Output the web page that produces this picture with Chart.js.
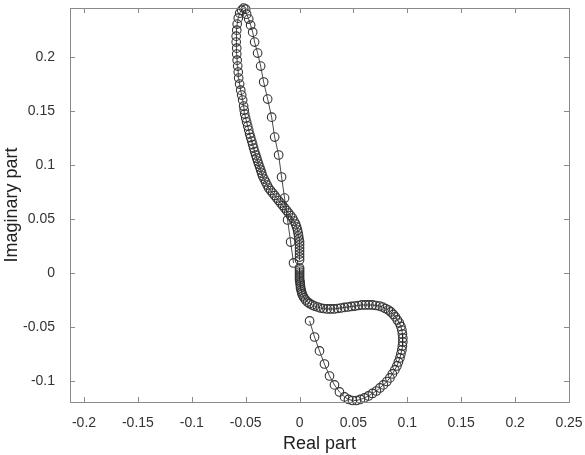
<!DOCTYPE html>
<html>
<head>
<meta charset="utf-8">
<script src="https://cdn.jsdelivr.net/npm/chart.js@4/dist/chart.umd.min.js"></script>
<style>
html, body { margin: 0; padding: 0; background: #fff; }
</style>
</head>
<body>
<canvas id="chart" width="585" height="455"></canvas>
<script>
// upper branch (dense S-curve up the left side, sparse way back down)
var upperRe = [0,0,0,0,0,0,0,-0.0005,-0.0009,-0.0014,-0.0019,-0.0028,-0.0037,-0.0051,-0.0065,-0.0083,-0.0102,-0.0120,-0.0139,-0.0157,
  -0.0176,-0.0194,-0.0213,-0.0231,-0.0250,-0.0269,-0.0287,-0.0301,-0.0315,-0.0329,-0.0343,-0.0352,-0.0361,-0.0370,-0.0380,-0.0389,-0.0398,-0.0407,
  -0.0417,-0.0426,-0.0435,-0.0444,-0.0454,-0.0463,-0.0472,-0.0481,-0.0491,-0.0500,-0.0509,-0.0514,-0.0519,-0.0528,-0.0537,-0.0546,-0.0556,-0.0565,
  -0.0569,-0.0574,-0.0579,-0.0583,-0.0583,-0.0588,-0.0588,-0.0583,-0.0579,-0.0569,-0.0556,-0.0537,-0.0519,-0.0500,
  -0.0491,-0.0472,-0.0454,-0.0435,-0.0417,-0.0389,-0.0361,-0.0333,-0.0296,-0.0259,-0.0231,-0.0194,-0.0167,-0.0139,-0.0111,-0.0083,-0.0056];
var upperIm = [0.0120,0.0148,0.0176,0.0204,0.0231,0.0259,0.0287,0.0315,0.0343,0.0370,0.0398,0.0426,0.0454,0.0481,0.0509,0.0532,0.0556,0.0579,0.0602,0.0625,
  0.0648,0.0671,0.0694,0.0718,0.0741,0.0764,0.0787,0.0815,0.0843,0.0870,0.0898,0.0926,0.0954,0.0981,0.1009,0.1037,0.1065,0.1093,
  0.1125,0.1157,0.1190,0.1222,0.1255,0.1287,0.1324,0.1361,0.1398,0.1435,0.1472,0.1509,0.1546,0.1602,0.1648,0.1694,0.1750,0.1806,
  0.1861,0.1917,0.1972,0.2028,0.2083,0.2139,0.2194,0.2250,0.2306,0.2361,0.2407,0.2435,0.2454,0.2444,
  0.2398,0.2352,0.2296,0.2231,0.2139,0.2037,0.1917,0.1769,0.1611,0.1444,0.1259,0.1093,0.0889,0.0694,0.0491,0.0287,0.0093];

// lower branch (dense down and round the loop, sparse way back up)
var lowerRe = [0,0,0,0,0,0,0,0.0005,0.0005,0.0009,0.0009,0.0014,0.0019,0.0023,0.0032,0.0042,0.0056,
  0.0074,0.0093,0.0116,0.0139,0.0167,0.0194,0.0222,0.0255,0.0287,0.0319,0.0352,0.0384,0.0417,0.0449,0.0481,0.0514,0.0546,0.0579,
  0.0611,0.0644,0.0676,0.0708,0.0741,0.0769,0.0796,0.0824,0.0847,0.0870,0.0889,0.0907,0.0926,0.0940,0.0949,0.0954,0.0958,0.0958,0.0954,0.0949,
  0.0940,0.0931,0.0917,0.0903,0.0884,0.0861,0.0838,0.0810,0.0778,0.0745,0.0713,0.0676,0.0639,0.0602,0.0565,0.0528,0.0491,0.0454,0.0417,
  0.0370,0.0324,0.0278,0.0231,0.0185,0.0139,0.0093];
var lowerIm = [0.0046,0.0028,0.0009,-0.0009,-0.0028,-0.0046,-0.0065,-0.0083,-0.0102,-0.0120,-0.0139,-0.0157,-0.0176,-0.0194,-0.0213,-0.0231,-0.0250,
  -0.0269,-0.0282,-0.0296,-0.0306,-0.0315,-0.0324,-0.0329,-0.0333,-0.0333,-0.0333,-0.0329,-0.0324,-0.0319,-0.0315,-0.0310,-0.0306,-0.0301,-0.0296,
  -0.0296,-0.0296,-0.0296,-0.0301,-0.0306,-0.0315,-0.0329,-0.0343,-0.0361,-0.0384,-0.0407,-0.0435,-0.0463,-0.0495,-0.0528,-0.0565,-0.0602,-0.0639,-0.0676,-0.0713,
  -0.0750,-0.0787,-0.0824,-0.0861,-0.0898,-0.0935,-0.0972,-0.1005,-0.1037,-0.1065,-0.1093,-0.1116,-0.1139,-0.1157,-0.1171,-0.1181,-0.1181,-0.1171,-0.1148,
  -0.1102,-0.1037,-0.0954,-0.0843,-0.0722,-0.0593,-0.0444];

var xTicks = [-0.2, -0.15, -0.1, -0.05, 0, 0.05, 0.1, 0.15, 0.2, 0.25];
var yTicks = [-0.1, -0.05, 0, 0.05, 0.1, 0.15, 0.2];

function toPoints(re, im) {
  return re.map(function (x, i) { return { x: x, y: im[i] }; });
}

function branch(re, im) {
  return {
    data: toPoints(re, im),
    showLine: true,
    borderColor: '#1a1a1a',
    borderWidth: 0.8,
    pointRadius: 4.3,
    pointBorderWidth: 1.1,
    pointBorderColor: '#333',
    pointBackgroundColor: 'rgba(0,0,0,0)',
    clip: false
  };
}

// box round the plot with inward tick marks on all four sides
var frame = {
  id: 'frame',
  afterDatasetsDraw: function (chart) {
    var ctx = chart.ctx, a = chart.chartArea;
    var xs = chart.scales.x, ys = chart.scales.y;
    ctx.save();
    ctx.strokeStyle = '#8a8a8a';
    ctx.lineWidth = 1;
    ctx.strokeRect(Math.round(a.left) + 0.5, Math.round(a.top) + 0.5,
      Math.round(a.right - a.left), Math.round(a.bottom - a.top));
    ctx.beginPath();
    xTicks.forEach(function (v) {
      var px = Math.round(xs.getPixelForValue(v)) + 0.5;
      ctx.moveTo(px, a.bottom); ctx.lineTo(px, a.bottom - 5);
      ctx.moveTo(px, a.top); ctx.lineTo(px, a.top + 5);
    });
    yTicks.forEach(function (v) {
      var py = Math.round(ys.getPixelForValue(v)) + 0.5;
      ctx.moveTo(a.left, py); ctx.lineTo(a.left + 5, py);
      ctx.moveTo(a.right, py); ctx.lineTo(a.right - 5, py);
    });
    ctx.stroke();
    ctx.restore();
  }
};

var tickFont = { family: 'Liberation Sans', size: 14 };
var titleFont = { family: 'Liberation Sans', size: 18 };

var mychart = document.getElementById('chart').getContext('2d');
var newChart = new Chart(mychart, {
  type: 'scatter',
  data: {
    datasets: [branch(upperRe, upperIm), branch(lowerRe, lowerIm)]
  },
  options: {
    responsive: false,
    animation: false,
    layout: { padding: { top: 8, right: 16, left: 0, bottom: 0 } },
    plugins: { legend: { display: false }, tooltip: { enabled: false } },
    scales: {
      x: {
        type: 'linear',
        min: -0.213,
        max: 0.25,
        afterBuildTicks: function (s) { s.ticks = xTicks.map(function (v) { return { value: v }; }); },
        afterFit: function (s) { s.height = 53; s.paddingLeft = 0; s.paddingRight = 0; },
        grid: { display: false },
        border: { display: false },
        ticks: { font: tickFont, color: '#333', padding: 5, maxRotation: 0,
          callback: function (v) { return String(v); } },
        title: { display: true, text: 'Real part', font: titleFont, color: '#222', padding: { top: 0, bottom: 0 } }
      },
      y: {
        type: 'linear',
        min: -0.1195,
        max: 0.2455,
        afterBuildTicks: function (s) { s.ticks = yTicks.map(function (v) { return { value: v }; }); },
        afterFit: function (s) { s.width = 70; s.paddingTop = 0; s.paddingBottom = 0; },
        grid: { display: false },
        border: { display: false },
        ticks: { font: tickFont, color: '#333', padding: 7,
          callback: function (v) { return String(v); } },
        title: { display: true, text: 'Imaginary part', font: titleFont, color: '#222', padding: { top: 1, bottom: 0 } }
      }
    }
  },
  plugins: [frame]
});
</script>
</body>
</html>
